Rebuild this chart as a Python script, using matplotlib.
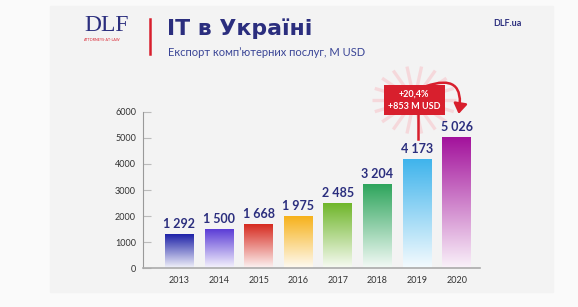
import numpy as np
import matplotlib
matplotlib.use('Agg')
import matplotlib.pyplot as plt
import matplotlib.transforms as mtransforms
from matplotlib.colors import to_rgb
from matplotlib.patches import Rectangle, FancyArrowPatch

plt.rcParams['font.family'] = ['Lato', 'DejaVu Sans']

years = ['2013', '2014', '2015', '2016', '2017', '2018', '2019', '2020']
export = [1292, 1500, 1668, 1975, 2485, 3204, 4173, 5026]
bar_colors = ['#1f23a8', '#5c3dd6', '#d62b20', '#f6b21c',
              '#70b62b', '#2fa55d', '#40b4ec', '#a3139c']
yticks = [0, 1000, 2000, 3000, 4000, 5000, 6000]
growth_txt = '+20,4%\n+853 M USD'

navy = '#2b2e7e'
red = '#d81f2d'

W, H = 578, 307
fig = plt.figure(figsize=(W / 100, H / 100), dpi=100)
fig.patch.set_facecolor('#fafafa')
# light panel behind everything
fig.patches.append(Rectangle((50 / W, 1 - 292 / H), 503 / W, 286 / H,
                             transform=fig.transFigure, color='#f3f3f3', zorder=-5))

ax = fig.add_axes([143 / W, 39 / H, 337 / W, 182 / H])
ax.set_facecolor('none')
ax.set_xlim(-0.92, 7.59)
ax.set_ylim(0, 7000)

bw = 0.73
for i, (v, c) in enumerate(zip(export, bar_colors)):
    rgb = np.array(to_rgb(c))
    t = np.linspace(1, 0.06, 64)[:, None]   # top -> bottom
    grad = 1 - t * (1 - rgb)
    ax.imshow(grad[:, None, :], extent=(i - bw / 2, i + bw / 2, 0, v),
              aspect='auto', zorder=2, interpolation='bilinear')
    ax.text(i, v + 170, f'{v:,}'.replace(',', ' '), ha='center', va='bottom',
            fontsize=9, fontweight='bold', color=navy, zorder=4)

ax.set_xticks(range(len(years)))
ax.set_xticklabels(years)
ax.set_yticks(yticks)
ax.tick_params(axis='x', length=0, labelsize=6.5, labelcolor='#333333', pad=6)
ax.tick_params(axis='y', direction='in', length=6, color='#bbbbbb',
               labelsize=6.5, labelcolor='#333333', pad=5)
for s in ['top', 'right']:
    ax.spines[s].set_visible(False)
ax.spines['left'].set_bounds(0, 6000)
ax.spines['left'].set_color('#999999')
ax.spines['bottom'].set_color('#aaaaaa')
ax.spines['bottom'].set_linewidth(1.2)

# growth call-out between 2019 and 2020
bx, by = 5.93, 6460
burst = fig.dpi_scale_trans + mtransforms.ScaledTranslation(bx, by, ax.transData)
for a in np.linspace(0, 2 * np.pi, 18, endpoint=False):
    ax.plot([0.15 * np.cos(a), 0.42 * np.cos(a)], [0.12 * np.sin(a), 0.34 * np.sin(a)],
            color='#f8c3c9', lw=2.4, alpha=0.55, solid_capstyle='butt',
            transform=burst, clip_on=False, zorder=1)
ax.plot([6.03, 6.03], [by, 4950], color=red, lw=1.8, zorder=3, clip_on=False)
ax.text(bx, by, growth_txt, ha='center', va='center', fontsize=6.5,
        fontweight='bold', color='white', linespacing=1.5, zorder=6,
        bbox=dict(boxstyle='square,pad=0.45', fc=red, ec='none'), clip_on=False)
ax.add_patch(FancyArrowPatch((6.15, 6950), (7.04, 5820),
                             connectionstyle='arc3,rad=-0.9',
                             arrowstyle='-|>,head_length=6,head_width=4',
                             color=red, lw=1.8, zorder=5, clip_on=False))

# header
fig.text(84 / W, 1 - 31 / H, 'DLF', fontsize=17, color=navy,
         family=['Liberation Serif', 'DejaVu Serif'], ha='left', va='baseline')
fig.text(84 / W, 1 - 40 / H, 'ATTORNEYS-AT-LAW', fontsize=2.6, color=red,
         ha='left', va='center')
fig.add_artist(plt.Line2D([150 / W, 150 / W], [1 - 19 / H, 1 - 54 / H],
                          color=red, lw=1.8, transform=fig.transFigure))
fig.text(167 / W, 1 - 35 / H, 'IT в Україні', fontsize=15.8, fontweight='bold',
         color=navy, ha='left', va='baseline', family=['DejaVu Sans'])
fig.text(168 / W, 1 - 52 / H, 'Експорт комп\u2019ютерних послуг, M USD', fontsize=8,
         color='#3a4596', ha='left', va='center')
fig.text(493 / W, 1 - 24 / H, 'DLF.ua', fontsize=6.5, fontweight='bold',
         color=navy, ha='left', va='center')

fig.savefig('out.png', dpi=100, facecolor=fig.get_facecolor())
